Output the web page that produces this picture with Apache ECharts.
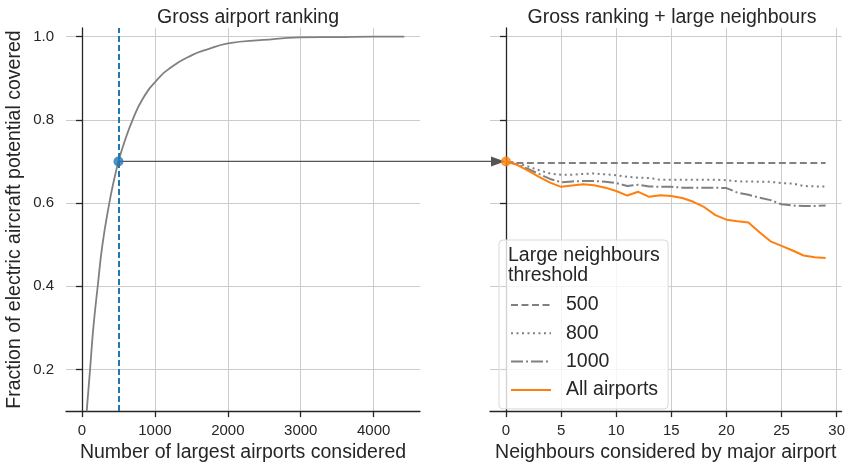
<!DOCTYPE html>
<html>
<head>
<meta charset="utf-8">
<script src="https://cdn.jsdelivr.net/npm/echarts@6/dist/echarts.min.js"></script>
<style>html,body{margin:0;padding:0;background:#fff}#c{width:848px;height:468px}</style>
</head>
<body>
<div id="c"></div>
<script>
// ---- data ----
const grossN = [64, 110, 155, 215, 280, 374, 432, 500, 580, 694, 831, 1014, 1242, 1516, 1699, 2004, 2484, 2986, 3500, 4000, 4420];
const grossFrac = [0.10, 0.20, 0.30, 0.40, 0.50, 0.60, 0.65, 0.70, 0.746, 0.80, 0.85, 0.893, 0.929, 0.956, 0.968, 0.984, 0.992, 0.998, 0.999, 1.0, 1.0];
const cutoffN = 500;
const cutoffFrac = 0.70;
const neighbours = [0,1,2,3,4,5,6,7,8,9,10,11,12,13,14,15,16,17,18,19,20,21,22,23,24,25,26,27,28,29];
const thr500 = [0.700,0.696,0.696,0.696,0.696,0.696,0.696,0.696,0.696,0.696,0.696,0.696,0.696,0.696,0.696,0.696,0.696,0.696,0.696,0.696,0.696,0.696,0.696,0.696,0.696,0.696,0.696,0.696,0.696,0.696];
const thr800 = [0.700,0.696,0.688,0.679,0.671,0.668,0.668,0.670,0.671,0.669,0.667,0.663,0.661,0.660,0.656,0.656,0.656,0.656,0.656,0.656,0.655,0.652,0.652,0.651,0.651,0.648,0.647,0.641,0.640,0.640];
const thr1000 = [0.700,0.693,0.682,0.670,0.658,0.650,0.652,0.653,0.653,0.651,0.648,0.641,0.644,0.640,0.639,0.639,0.637,0.637,0.637,0.637,0.636,0.625,0.620,0.613,0.607,0.597,0.594,0.593,0.593,0.594];
const allAirports = [0.700,0.692,0.678,0.663,0.649,0.639,0.642,0.645,0.643,0.637,0.629,0.618,0.627,0.615,0.619,0.617,0.612,0.603,0.590,0.571,0.560,0.556,0.553,0.530,0.508,0.497,0.486,0.474,0.470,0.468];
const leftXTicks = [0, 1000, 2000, 3000, 4000];
const rightXTicks = [0, 5, 10, 15, 20, 25, 30];
const yTicks = [0.2, 0.4, 0.6, 0.8, 1.0];
const legendNames = ['500', '800', '1000', 'All airports'];

// ---- style ----
const FONT = "'Liberation Sans', Arial, sans-serif";
const TXT = '#262626';
const GRID = '#cccccc';
const GREY = '#808080';
const BLUE = '#1f77b4';
const ORANGE = '#ff7f0e';
const BIG = 19.5;

const zip = (a, b) => a.map((v, i) => [v, b[i]]);

function axisCommon(ticks, showLabels, fmt) {
  return {
    axisLine: { show: true, lineStyle: { color: TXT, width: 1.3 } },
    axisTick: { show: true, length: 6, lineStyle: { color: TXT, width: 1.3 }, customValues: ticks },
    axisLabel: { show: showLabels, color: TXT, fontSize: 15, fontFamily: FONT, margin: 12, customValues: ticks, formatter: fmt },
    splitLine: { show: true, lineStyle: { color: GRID, width: 1 } }
  };
}

const chart = echarts.init(document.getElementById('c'), null, { renderer: 'canvas' });

const option = {
  animation: false,
  backgroundColor: '#fff',
  textStyle: { fontFamily: FONT, color: TXT },
  title: [
    { text: 'Gross airport ranking', left: 243, top: 3, textAlign: 'center',
      textStyle: { fontSize: BIG, fontWeight: 'normal', color: TXT, fontFamily: FONT } },
    { text: 'Gross ranking + large neighbours', left: 667, top: 3, textAlign: 'center',
      textStyle: { fontSize: BIG, fontWeight: 'normal', color: TXT, fontFamily: FONT } }
  ],
  grid: [
    { left: 66, top: 28, width: 354, height: 386 },
    { left: 490, top: 28, width: 354, height: 386 }
  ],
  xAxis: [
    Object.assign({ type: 'value', gridIndex: 0, min: -220, max: 4636,
      name: 'Number of largest airports considered', nameLocation: 'middle', nameGap: 31,
      nameTextStyle: { fontSize: BIG, color: TXT, fontFamily: FONT } },
      axisCommon(leftXTicks, true, v => String(v))),
    Object.assign({ type: 'value', gridIndex: 1, min: -1.45, max: 30.45,
      name: 'Neighbours considered by major airport', nameLocation: 'middle', nameGap: 31,
      nameTextStyle: { fontSize: BIG, color: TXT, fontFamily: FONT } },
      axisCommon(rightXTicks, true, v => String(v)))
  ],
  yAxis: [
    Object.assign({ type: 'value', gridIndex: 0, min: 0.1, max: 1.0207,
      name: 'Fraction of electric aircraft potential covered', nameLocation: 'middle', nameGap: 41,
      nameTextStyle: { fontSize: BIG, color: TXT, fontFamily: FONT } },
      axisCommon(yTicks, true, v => v.toFixed(1))),
    Object.assign({ type: 'value', gridIndex: 1, min: 0.1, max: 1.0207 },
      axisCommon(yTicks, false, v => v.toFixed(1)))
  ],
  legend: {
    data: legendNames,
    orient: 'vertical',
    left: 499, top: 240,
    padding: [55, 10, 9, 11],
    itemWidth: 40, itemHeight: 14, itemGap: 8.3,
    backgroundColor: 'rgba(255,255,255,0.8)',
    borderColor: '#d9d9d9', borderWidth: 1, borderRadius: 4,
    itemStyle: { opacity: 0 },
    textStyle: { fontSize: BIG, color: TXT, fontFamily: FONT, padding: [0, 0, 0, 10] },
    selectedMode: false
  },
  series: [
    { name: 'Gross', type: 'line', xAxisIndex: 0, yAxisIndex: 0, data: zip(grossN, grossFrac),
      showSymbol: false, symbol: 'none', smooth: 0.5,
      lineStyle: { color: GREY, width: 1.8 }, z: 3,
      markLine: { silent: true, symbol: 'none', label: { show: false },
        lineStyle: { color: BLUE, width: 2, type: [6, 3] }, data: [{ xAxis: cutoffN }] } },
    { name: 'Cutoff', type: 'scatter', xAxisIndex: 0, yAxisIndex: 0, data: [[cutoffN, cutoffFrac]],
      symbolSize: 10, itemStyle: { color: BLUE }, z: 6 },
    { name: '500', type: 'line', xAxisIndex: 1, yAxisIndex: 1, data: zip(neighbours, thr500),
      symbol: 'none', lineStyle: { color: GREY, width: 2, type: [7, 3.5] }, itemStyle: { color: GREY } },
    { name: '800', type: 'line', xAxisIndex: 1, yAxisIndex: 1, data: zip(neighbours, thr800),
      symbol: 'none', lineStyle: { color: GREY, width: 2, type: [2, 3.5] }, itemStyle: { color: GREY } },
    { name: '1000', type: 'line', xAxisIndex: 1, yAxisIndex: 1, data: zip(neighbours, thr1000),
      symbol: 'none', lineStyle: { color: GREY, width: 2, type: [12, 3, 2, 3] }, itemStyle: { color: GREY } },
    { name: 'All airports', type: 'line', xAxisIndex: 1, yAxisIndex: 1, data: zip(neighbours, allAirports),
      symbol: 'none', lineStyle: { color: ORANGE, width: 2 }, itemStyle: { color: ORANGE }, z: 4 },
    { name: 'Start', type: 'scatter', xAxisIndex: 1, yAxisIndex: 1, data: [[neighbours[0], allAirports[0]]],
      symbolSize: 10, itemStyle: { color: ORANGE }, z: 6 }
  ]
};
chart.setOption(option);

// arrow annotation from left point to right panel origin, via the library's scales
const p0 = chart.convertToPixel({ xAxisIndex: 0, yAxisIndex: 0 }, [cutoffN, cutoffFrac]);
const p1 = chart.convertToPixel({ xAxisIndex: 1, yAxisIndex: 1 }, [neighbours[0], allAirports[0]]);
const tipX = p1[0] - 1, headLen = 14, headHalf = 5;
chart.setOption({
  graphic: [
    { type: 'line', z: 5, silent: true,
      shape: { x1: p0[0], y1: p0[1], x2: tipX - headLen, y2: p0[1] },
      style: { stroke: '#555555', lineWidth: 1.2 } },
    { type: 'polygon', z: 5, silent: true,
      shape: { points: [[tipX, p1[1]], [tipX - headLen, p1[1] - headHalf], [tipX - headLen, p1[1] + headHalf]] },
      style: { fill: '#555555' } },
    { type: 'text', left: 508, top: 246, z: 10, silent: true,
      style: { text: 'Large neighbours\nthreshold', lineHeight: 20, fill: TXT, font: BIG + 'px ' + FONT } }
  ]
});
</script>
</body>
</html>
